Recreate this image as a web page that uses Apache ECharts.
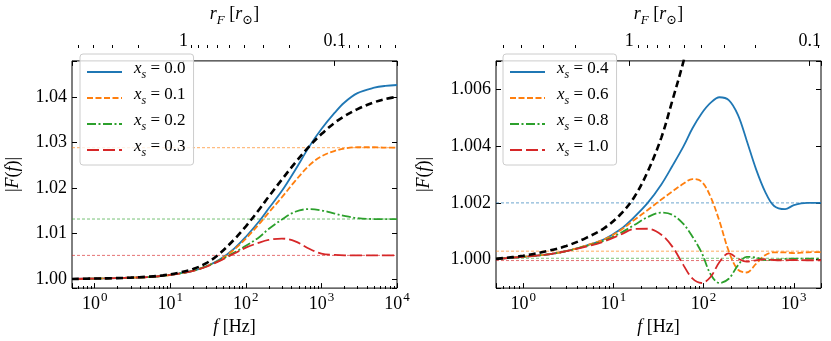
<!DOCTYPE html>
<html>
<head>
<meta charset="utf-8">
<script src="https://cdn.jsdelivr.net/npm/echarts@6/dist/echarts.min.js"></script>
<style>
html, body { margin: 0; padding: 0; background: #fff; }
#chart { width: 831px; height: 341px; }
</style>
</head>
<body>
<div id="chart"></div>
<script>
// ---- data ----
// left panel, frequency grid [Hz]
const fLeft = [0.5, 1, 2, 3, 5, 8, 13, 20, 30, 45, 70, 100, 150, 200, 300, 450, 700, 1000, 1500, 2000, 3000, 5000, 7000, 10000];
const leftBlack = [1.0000, 1.0001, 1.0002, 1.0003, 1.0005, 1.0008, 1.0014, 1.0022, 1.0035, 1.0056, 1.0087, 1.0116, 1.0153, 1.0181, 1.0219, 1.0256, 1.0293, 1.0319, 1.0344, 1.0358, 1.0374, 1.0389, 1.0396, 1.0401];
const left00 = [1.0000, 1.0001, 1.0002, 1.0003, 1.0004, 1.0007, 1.0012, 1.0018, 1.0028, 1.0043, 1.0067, 1.0093, 1.0127, 1.0155, 1.0194, 1.0240, 1.0293, 1.0330, 1.0366, 1.0388, 1.0409, 1.0421, 1.0425, 1.0427];
const left01 = [1.0000, 1.0001, 1.0002, 1.0003, 1.0004, 1.0007, 1.0012, 1.0018, 1.0028, 1.0042, 1.0065, 1.0089, 1.0121, 1.0146, 1.0180, 1.0216, 1.0251, 1.0270, 1.0282, 1.0287, 1.0290, 1.0290, 1.0289, 1.0289];
const left02 = [1.0000, 1.0001, 1.0002, 1.0003, 1.0004, 1.0007, 1.0012, 1.0018, 1.0028, 1.0041, 1.0058, 1.0073, 1.0092, 1.0110, 1.0131, 1.0148, 1.0154, 1.0151, 1.0144, 1.0139, 1.0134, 1.0132, 1.0132, 1.0132];
const left03 = [1.0000, 1.0001, 1.0002, 1.0003, 1.0004, 1.0007, 1.0012, 1.0018, 1.0027, 1.0040, 1.0056, 1.0069, 1.0080, 1.0086, 1.0089, 1.0083, 1.0066, 1.0056, 1.0053, 1.0052, 1.0052, 1.0052, 1.0052, 1.0052];
const leftLabels = ['0.0', '0.1', '0.2', '0.3'];
const leftLimits = [null, 1.0289, 1.0132, 1.0052];

// right panel
const fRight = [0.5, 1, 2, 3, 5, 8, 12, 17, 24, 34, 45, 60, 75, 95, 120, 150, 190, 240, 300, 380, 480, 600, 800, 1000, 1400, 2000];
const fRightBlack = [0.5, 1, 2, 3, 5, 8, 12, 17, 24, 34, 45, 60, 75];
const rightBlack = [1.00003, 1.00014, 1.00033, 1.00048, 1.00077, 1.00112, 1.0016, 1.0022, 1.0031, 1.0043, 1.0056, 1.0070, 1.0083];
const right04 = [1.00003, 1.0001, 1.0002, 1.0003, 1.0005, 1.00073, 1.00107, 1.0015, 1.0020, 1.00265, 1.0033, 1.0040, 1.00462, 1.00515, 1.00553, 1.00572, 1.00562, 1.0051, 1.0042, 1.0032, 1.0024, 1.0019, 1.00178, 1.00192, 1.0020, 1.0020];
const right06 = [1.00003, 1.0001, 1.0002, 1.0003, 1.0005, 1.00072, 1.00104, 1.0014, 1.00175, 1.00212, 1.0024, 1.00268, 1.00284, 1.00275, 1.0022, 1.00135, 1.0003, 0.99965, 0.99955, 0.99985, 1.00016, 1.00026, 1.00026, 1.00023, 1.00026, 1.00027];
const right08 = [1.00003, 1.0001, 1.0002, 1.0003, 1.00048, 1.00068, 1.00094, 1.00122, 1.0015, 1.00166, 1.00158, 1.00125, 1.00082, 1.00025, 0.99948, 0.99918, 0.99933, 0.9998, 1.0001, 1.00008, 0.99999, 0.99999, 1.00003, 1.00004, 1.00004, 1.00004];
const right10 = [1.00003, 1.0001, 1.0002, 1.0003, 1.00046, 1.00065, 1.00088, 1.00108, 1.00109, 1.00088, 1.00046, 0.9998, 0.99934, 0.99918, 0.9994, 0.99992, 1.00022, 1.00004, 0.99993, 0.99998, 1.00002, 0.99999, 0.99998, 0.99999, 0.99998, 0.99998];
const rightLabels = ['0.4', '0.6', '0.8', '1.0'];
const rightLimits = [1.0020, 1.0003, 1.00005, 0.99997];

// r_F = 1 r_sun at this frequency [Hz]
const fSun = 15;

// ---- styling ----
const FONT = 'Liberation Serif, DejaVu Serif, DejaVu Sans, serif';
const colors = ['#1f77b4', '#ff7f0e', '#2ca02c', '#d62728'];
const dashes = ['solid', [6, 2.5], [9, 2.5, 2, 2.5], [12, 4]];
const grids = [
  { left: 72, top: 45, width: 325, height: 244 },
  { left: 496, top: 45, width: 325, height: 244 }
];
const panels = [
  { fMin: 0.5, fMax: 10000, yMin: 0.998, yMax: 1.048, split: 5, dec: 2 },
  { fMin: 0.5, fMax: 2000, yMin: 0.999, yMax: 1.007, split: 4, dec: 3 }
];

const chart = echarts.init(document.getElementById('chart'));

function fLabel(v) {
  const n = Math.round(Math.log10(v));
  if (Math.abs(v / Math.pow(10, n) - 1) > 1e-6) return '';
  return '{b|10}{e|' + n + '}';
}
function rLabel(v) {
  const n = Math.round(Math.log10(v));
  if (Math.abs(v / Math.pow(10, n) - 1) > 1e-6) return '';
  return n >= 0 ? String(Math.pow(10, n)) : (Math.pow(10, n)).toFixed(-n);
}

const tickStyle = { inside: true, length: 5, lineStyle: { color: '#000', width: 1 } };
const xAxes = [], yAxes = [];
panels.forEach((p, i) => {
  xAxes.push({
    type: 'log', gridIndex: i, min: p.fMin, max: p.fMax, position: 'bottom',
    axisLine: { show: false }, splitLine: { show: false }, axisTick: tickStyle,
    axisLabel: {
      formatter: fLabel, margin: 5,
      rich: {
        b: { fontFamily: FONT, fontSize: 18, color: '#000', verticalAlign: 'bottom', lineHeight: 20 },
        e: { fontFamily: FONT, fontSize: 13, color: '#000', verticalAlign: 'bottom', lineHeight: 14, padding: [0, 0, 9, 1] }
      }
    },
    name: '{i|f}{t| [Hz]}', nameLocation: 'middle', nameGap: 14,
    nameTextStyle: { rich: {
      i: { fontFamily: FONT, fontStyle: 'italic', fontSize: 18, color: '#000' },
      t: { fontFamily: FONT, fontSize: 18, color: '#000' }
    } }
  });
  xAxes.push({
    type: 'log', gridIndex: i, position: 'top', inverse: true,
    min: Math.sqrt(fSun / p.fMax), max: Math.sqrt(fSun / p.fMin),
    axisLine: { show: false }, splitLine: { show: false }, axisTick: tickStyle,
    axisLabel: { formatter: rLabel, margin: 11, fontFamily: FONT, fontSize: 18, color: '#000' },
    name: '{i|r}{s|F}{t| [}{i|r}{s|⊙}{t|]}', nameLocation: 'middle', nameGap: 21,
    nameTextStyle: { rich: {
      i: { fontFamily: FONT, fontStyle: 'italic', fontSize: 18, color: '#000', verticalAlign: 'bottom', lineHeight: 20, padding: [0, 0, 4, 0] },
      s: { fontFamily: FONT, fontStyle: 'italic', fontSize: 13, color: '#000', verticalAlign: 'bottom', lineHeight: 14 },
      t: { fontFamily: FONT, fontSize: 18, color: '#000', verticalAlign: 'bottom', lineHeight: 20, padding: [0, 0, 4, 0] }
    } }
  });
  const yl = {
    type: 'value', gridIndex: i, min: p.yMin, max: p.yMax, splitNumber: p.split,
    axisLine: { show: false }, splitLine: { show: false }, axisTick: tickStyle
  };
  yAxes.push(Object.assign({}, yl, {
    position: 'left',
    axisLabel: {
      margin: 5, fontFamily: FONT, fontSize: 18, color: '#000',
      formatter: v => {
        const m = Math.pow(10, p.dec);
        return Math.abs(v * m - Math.round(v * m)) < 1e-6 && v > p.yMin + 1e-9 && v < p.yMax - 1e-9 ? v.toFixed(p.dec) : '';
      }
    },
    name: '{t||}{i|F}{t|(}{i|f}{t|)|}', nameLocation: 'middle', nameRotate: 90,
    nameGap: i === 0 ? 50 : 63,
    nameTextStyle: { rich: {
      i: { fontFamily: FONT, fontStyle: 'italic', fontSize: 18, color: '#000' },
      t: { fontFamily: FONT, fontSize: 18, color: '#000' }
    } }
  }));
  yAxes.push(Object.assign({}, yl, { position: 'right', axisLabel: { show: false } }));
});

function curve(name, fs, vals, k, xi, yi) {
  return {
    name: name, type: 'line', xAxisIndex: xi, yAxisIndex: yi,
    data: fs.map((f, j) => [f, vals[j]]),
    symbol: 'none', showSymbol: false, smooth: 0.35, clip: true, z: 3,
    lineStyle: { color: colors[k], width: 1.8, type: dashes[k] },
    itemStyle: { color: colors[k], opacity: 0 }
  };
}
// thin dashed horizontal line at the large-f limit of a curve
function limitLine(k, p, lim, xi, yi) {
  return {
    name: 'limit', type: 'line', xAxisIndex: xi, yAxisIndex: yi,
    data: [[p.fMin, lim], [p.fMax, lim]],
    symbol: 'none', silent: true, z: 2,
    lineStyle: { color: colors[k], width: 1, type: [3, 2], opacity: 0.65 }
  };
}
function blackCurve(fs, vals, xi, yi) {
  return {
    name: 'black', type: 'line', xAxisIndex: xi, yAxisIndex: yi,
    data: fs.map((f, j) => [f, vals[j]]),
    symbol: 'none', smooth: 0.35, clip: true, z: 4,
    lineStyle: { color: '#000', width: 2.6, type: [7, 4] }
  };
}

const leftVals = [left00, left01, left02, left03];
const rightVals = [right04, right06, right08, right10];
const series = [];
leftLimits.forEach((l, k) => { if (l != null) series.push(limitLine(k, panels[0], l, 0, 0)); });
rightLimits.forEach((l, k) => { if (l != null) series.push(limitLine(k, panels[1], l, 2, 2)); });
leftVals.forEach((v, k) => series.push(curve('xs=' + leftLabels[k], fLeft, v, k, 0, 0)));
series.push(blackCurve(fLeft, leftBlack, 0, 0));
rightVals.forEach((v, k) => series.push(curve('xs=' + rightLabels[k], fRight, v, k, 2, 2)));
series.push(blackCurve(fRightBlack, rightBlack, 2, 2));

function legendFor(labels, left) {
  return {
    data: labels.map(l => 'xs=' + l), orient: 'vertical', left: left, top: 54,
    itemWidth: 35, itemHeight: 14, itemGap: 5, selectedMode: false,
    padding: [6, 8, 6, 6],
    borderColor: '#cccccc', borderWidth: 1, borderRadius: 3,
    backgroundColor: 'rgba(255,255,255,0.8)',
    itemStyle: { opacity: 0 },
    formatter: n => '{x|x}{s|s}{t| = ' + n.split('=')[1] + '}',
    textStyle: { rich: {
      x: { fontFamily: FONT, fontStyle: 'italic', fontSize: 17, color: '#000', verticalAlign: 'bottom', lineHeight: 18, padding: [0, 0, 4, 7] },
      s: { fontFamily: FONT, fontStyle: 'italic', fontSize: 12, color: '#000', verticalAlign: 'bottom', lineHeight: 14 },
      t: { fontFamily: FONT, fontSize: 17, color: '#000', verticalAlign: 'bottom', lineHeight: 18, padding: [0, 0, 4, 0] }
    } }
  };
}

chart.setOption({
  animation: false,
  backgroundColor: '#fff',
  grid: grids.map(g => Object.assign({ show: true, borderColor: '#000', borderWidth: 1, backgroundColor: 'transparent' }, g)),
  xAxis: xAxes,
  yAxis: yAxes,
  legend: [legendFor(leftLabels, 80), legendFor(rightLabels, 503)],
  series: series
});

// minor ticks on the log axes (matplotlib style, 2..9 per decade)
function minorTicks() {
  const g = [];
  const add = (x1, y1, x2, y2) => g.push({
    type: 'line', silent: true, z: 10,
    shape: { x1: x1, y1: y1, x2: x2, y2: y2 },
    style: { stroke: '#000', lineWidth: 1 }
  });
  panels.forEach((p, i) => {
    const gr = grids[i];
    const yb = gr.top + gr.height, yt = gr.top;
    const rMin = Math.sqrt(fSun / p.fMax), rMax = Math.sqrt(fSun / p.fMin);
    for (let e = -2; e <= 4; e++) {
      for (let k = 2; k <= 9; k++) {
        const v = k * Math.pow(10, e);
        if (v > p.fMin && v < p.fMax) {
          const x = Math.round(chart.convertToPixel({ xAxisIndex: 2 * i }, v)) + 0.5;
          add(x, yb, x, yb - 3);
        }
        if (v > rMin && v < rMax) {
          const x = Math.round(chart.convertToPixel({ xAxisIndex: 2 * i + 1 }, v)) + 0.5;
          add(x, yt, x, yt + 3);
        }
      }
    }
  });
  chart.setOption({ graphic: g });
}
minorTicks();
</script>
</body>
</html>
